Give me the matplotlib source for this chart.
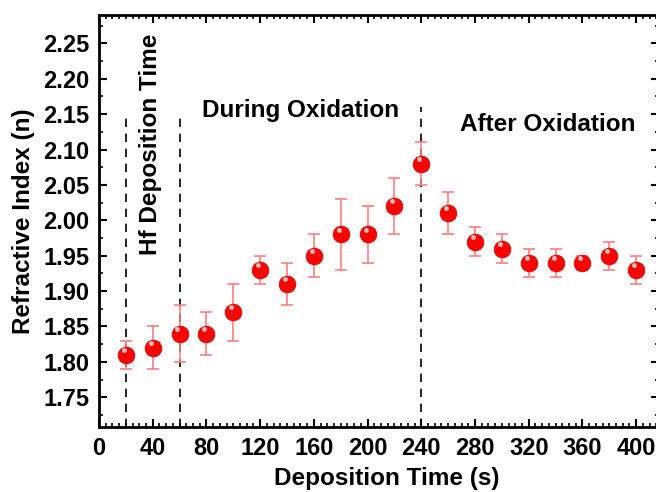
import numpy as np
import matplotlib.pyplot as plt
import matplotlib.ticker as ticker
import matplotlib.transforms as mtransforms

plt.rcParams['font.family'] = ['Liberation Sans', 'DejaVu Sans']
plt.rcParams['font.weight'] = 'bold'

# deposition time (s), refractive index and error bar half-width
time_s = [20, 40, 60, 80, 100, 120, 140, 160, 180, 200,
          220, 240, 260, 280, 300, 320, 340, 360, 380, 400]
n_index = [1.81, 1.82, 1.84, 1.84, 1.87, 1.93, 1.91, 1.95, 1.98, 1.98,
           2.02, 2.08, 2.01, 1.97, 1.96, 1.94, 1.94, 1.94, 1.95, 1.93]
n_err = [0.02, 0.03, 0.04, 0.03, 0.04, 0.02, 0.03, 0.03, 0.05, 0.04,
         0.04, 0.03, 0.03, 0.02, 0.02, 0.02, 0.02, 0.01, 0.02, 0.02]

# dashed separators: x position and top y value
sep_x = [20, 60, 240]
sep_top = [2.145, 2.145, 2.16]

fs = 17.5
fig = plt.figure(figsize=(6.56, 4.92), dpi=100)
# right spine sits just outside the picture, as in the original crop
ax = fig.add_axes([99/656, 65/492, 560/656, 412/492])

ax.set_xlim(0, 417)
ax.set_ylim(1.708, 2.29)

for x, top in zip(sep_x, sep_top):
    ax.plot([x, x], [1.708, top], color="black", linestyle=(0, (5, 4)), lw=1.2, zorder=1)

ax.errorbar(time_s, n_index, yerr=n_err, fmt="none", ecolor="#ff7f7f",
            elinewidth=1.2, capsize=4.5, capthick=1.2, zorder=2)
ax.plot(time_s, n_index, "o", color="#ff0000", markersize=12,
        markeredgecolor="#e00000", markeredgewidth=0.6, linestyle="none", zorder=3)
# little shine on each sphere
shine = mtransforms.offset_copy(ax.transData, fig=fig, x=-1.5, y=3.5, units="points")
ax.plot(time_s, n_index, "o", color="#ffd0d0", markersize=3.5, markeredgewidth=0,
        alpha=0.9, transform=shine, linestyle="none", zorder=4)

ax.text(38, 2.108, "Hf Deposition Time", rotation=90, ha="center", va="center",
        fontsize=fs, fontweight="bold")
ax.text(150, 2.155, "During Oxidation", ha="center", va="center",
        fontsize=fs, fontweight="bold")
ax.text(334, 2.135, "After Oxidation", ha="center", va="center",
        fontsize=fs, fontweight="bold")

ax.set_xlabel("Deposition Time (s)", fontsize=fs, fontweight="bold")
ax.xaxis.set_label_coords(288/560, -0.097)
ax.set_ylabel("Refractive Index (n)", fontsize=fs, fontweight="bold", labelpad=6)

ax.xaxis.set_major_locator(ticker.MultipleLocator(40))
ax.xaxis.set_minor_locator(ticker.MultipleLocator(5))
ax.yaxis.set_major_locator(ticker.MultipleLocator(0.05))
ax.yaxis.set_minor_locator(ticker.MultipleLocator(0.025))
ax.yaxis.set_major_formatter(ticker.FormatStrFormatter("%.2f"))

ax.tick_params(which="major", direction="in", length=6, width=1.5, labelsize=17,
               top=True, right=True, pad=7)
ax.tick_params(which="minor", direction="in", length=3, width=1.2, top=True, right=True)
for lab in ax.get_xticklabels() + ax.get_yticklabels():
    lab.set_fontweight("bold")
for s in ax.spines.values():
    s.set_linewidth(2)

plt.savefig("out.png", dpi=100)
